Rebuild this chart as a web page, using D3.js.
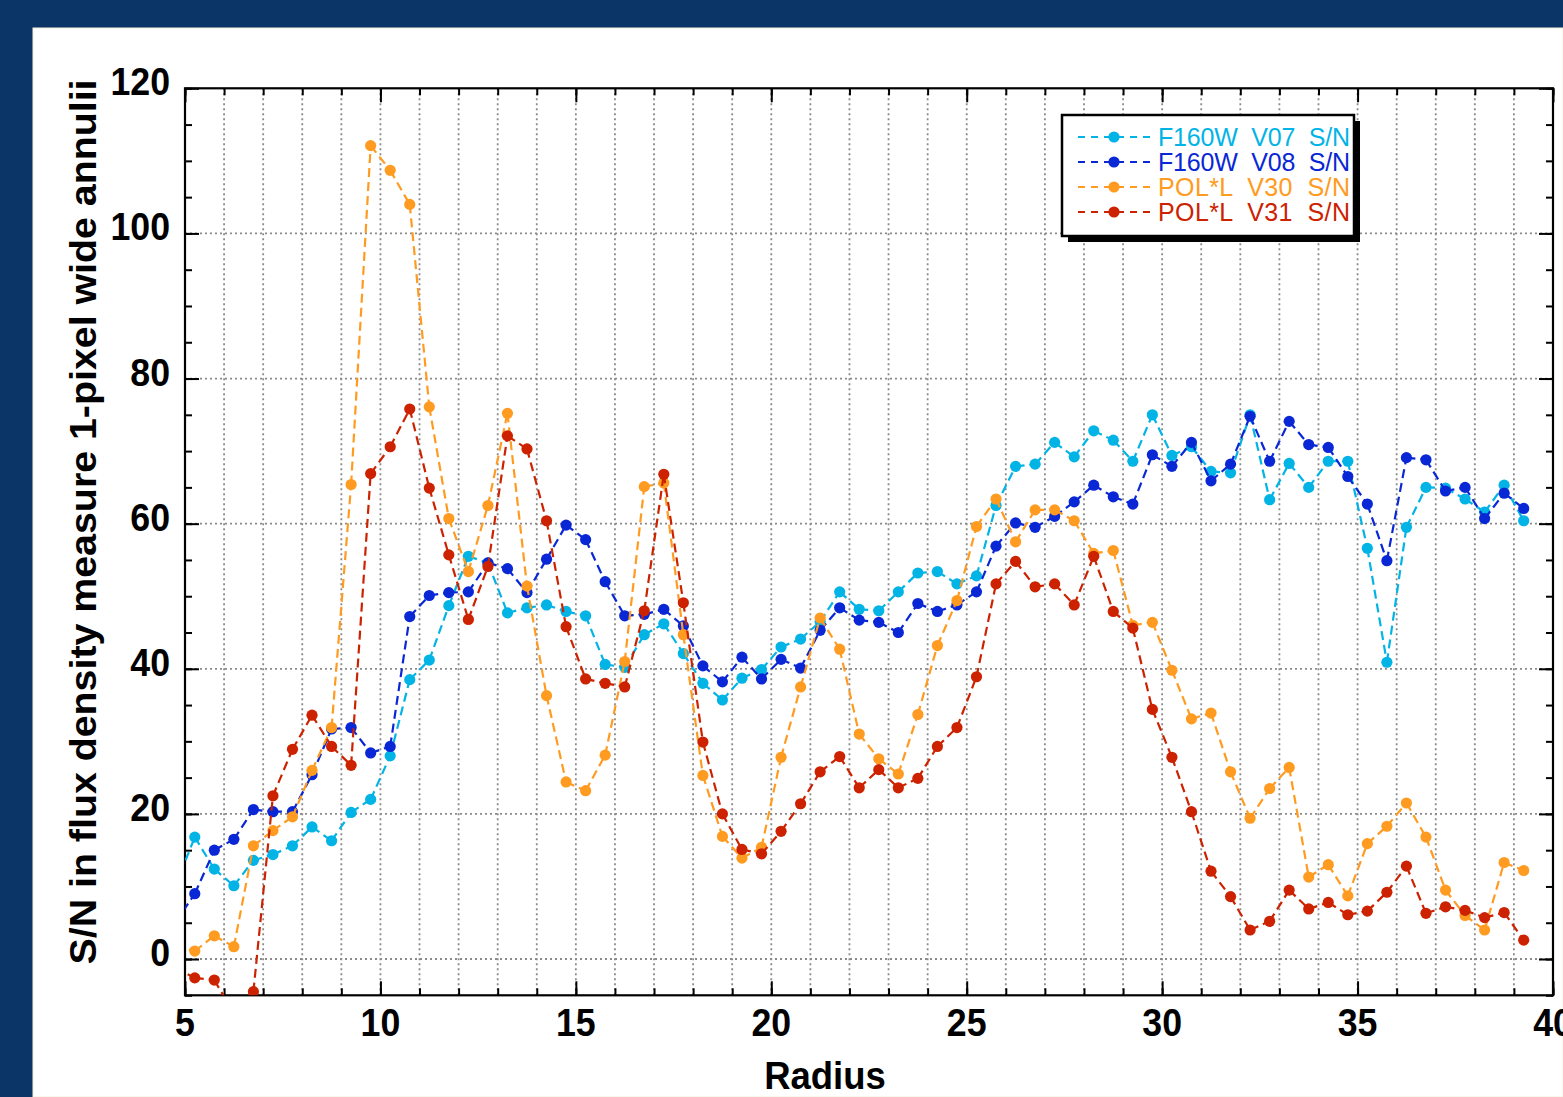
<!DOCTYPE html>
<html>
<head>
<meta charset="utf-8">
<script src="https://cdn.jsdelivr.net/npm/d3@7"></script>
<style>
  html, body { margin: 0; padding: 0; background: #0c3567; }
  svg { display: block; }
</style>
</head>
<body>
<svg id="chart" width="1563" height="1097"></svg>
<script>
// Radius of each annulus (pixels); the first sample lies just left of the axis
const radius = [4.75, 5.25, 5.75, 6.25, 6.75, 7.25, 7.75, 8.25, 8.75, 9.25, 9.75,
  10.25, 10.75, 11.25, 11.75, 12.25, 12.75, 13.25, 13.75, 14.25, 14.75,
  15.25, 15.75, 16.25, 16.75, 17.25, 17.75, 18.25, 18.75, 19.25, 19.75,
  20.25, 20.75, 21.25, 21.75, 22.25, 22.75, 23.25, 23.75, 24.25, 24.75,
  25.25, 25.75, 26.25, 26.75, 27.25, 27.75, 28.25, 28.75, 29.25, 29.75,
  30.25, 30.75, 31.25, 31.75, 32.25, 32.75, 33.25, 33.75, 34.25, 34.75,
  35.25, 35.75, 36.25, 36.75, 37.25, 37.75, 38.25, 38.75, 39.25];

// S/N per annulus for each visit
const f160wV07 = [10.0, 16.8, 12.4, 10.1, 13.6, 14.4, 15.6, 18.2, 16.3, 20.2, 22.0,
  28.0, 38.5, 41.2, 48.7, 55.5, 54.6, 47.7, 48.4, 48.8, 47.9,
  47.3, 40.6, 40.2, 44.7, 46.2, 42.1, 38.0, 35.7, 38.7, 39.9,
  43.0, 44.1, 46.5, 50.6, 48.2, 48.0, 50.6, 53.2, 53.4, 51.7,
  52.8, 62.5, 67.9, 68.2, 71.2, 69.2, 72.8, 71.5, 68.6, 75.0,
  69.4, 70.6, 67.2, 67.0, 75.0, 63.3, 68.3, 65.0, 68.6, 68.6,
  56.6, 40.9, 59.5, 65.0, 64.9, 63.4, 61.6, 65.3, 60.4];

const f160wV08 = [5.0, 9.0, 15.0, 16.5, 20.6, 20.3, 20.3, 25.4, 31.7, 31.9, 28.4,
  29.3, 47.2, 50.1, 50.5, 50.6, 54.6, 53.8, 50.5, 55.1, 59.8,
  57.8, 52.0, 47.3, 47.5, 48.2, 45.9, 40.4, 38.2, 41.6, 38.6,
  41.3, 40.1, 45.3, 48.4, 46.7, 46.4, 45.0, 49.0, 47.9, 48.8,
  50.6, 56.9, 60.1, 59.5, 61.0, 63.0, 65.3, 63.7, 62.7, 69.5,
  67.9, 71.2, 65.9, 68.2, 74.8, 68.6, 74.1, 70.9, 70.5, 66.5,
  62.7, 54.9, 69.1, 68.8, 64.5, 65.0, 60.7, 64.2, 62.1];

const polLV30 = [1.7, 1.1, 3.2, 1.7, 15.6, 17.7, 19.6, 26.0, 31.9, 65.4, 112.1,
  108.7, 104.0, 76.1, 60.7, 53.4, 62.5, 75.2, 51.4, 36.3, 24.4,
  23.2, 28.1, 41.0, 65.1, 65.6, 44.7, 25.3, 16.9, 13.9, 15.4,
  27.8, 37.5, 47.0, 42.7, 31.0, 27.6, 25.5, 33.7, 43.2, 49.4,
  59.6, 63.4, 57.5, 61.9, 61.9, 60.4, 55.9, 56.3, 46.0, 46.4,
  39.8, 33.1, 33.9, 25.8, 19.4, 23.5, 26.4, 11.3, 13.0, 8.7,
  15.9, 18.3, 21.5, 16.8, 9.5, 6.0, 4.0, 13.3, 12.2];

const polLV31 = [-1.2, -2.6, -2.9, -7.5, -4.5, 22.5, 28.9, 33.6, 29.3, 26.7, 66.9,
  70.6, 75.8, 64.9, 55.7, 46.8, 54.1, 72.1, 70.3, 60.4, 45.8,
  38.6, 38.0, 37.5, 48.0, 66.8, 49.1, 29.9, 20.0, 15.1, 14.5,
  17.6, 21.4, 25.8, 27.9, 23.6, 26.1, 23.6, 24.9, 29.3, 31.9,
  38.9, 51.7, 54.8, 51.3, 51.7, 48.8, 55.5, 47.9, 45.6, 34.4,
  27.8, 20.3, 12.1, 8.6, 4.0, 5.2, 9.5, 6.9, 7.8, 6.1,
  6.6, 9.2, 12.8, 6.3, 7.2, 6.7, 5.7, 6.4, 2.6];

const seriesNames = ["F160W  V07  S/N", "F160W  V08  S/N", "POL*L  V30  S/N", "POL*L  V31  S/N"];
const seriesColors = ["#02b4e6", "#0a27d6", "#ff9b20", "#cc2200"];
const seriesValues = [f160wV07, f160wV08, polLV30, polLV31];

const xTicksMajor = [5, 10, 15, 20, 25, 30, 35, 40];
const yTicksMajor = [0, 20, 40, 60, 80, 100, 120];

const xTitle = "Radius";
const yTitle = "S/N in flux density measure 1-pixel wide annulii";

const svg = d3.select("#chart");
const W = 1563, H = 1097;
const boldFont = "'Liberation Sans', Arial, Helvetica, sans-serif";

// white panel on the navy frame
svg.append("rect").attr("x", 0).attr("y", 0).attr("width", W).attr("height", H).attr("fill", "#0c3567");
svg.append("rect").attr("x", 33).attr("y", 28).attr("width", W - 33).attr("height", H - 28)
  .attr("fill", "#ffffff").attr("stroke", "#f3f0d8").attr("stroke-width", 1);

const plot = { left: 185, right: 1553, top: 88.3, bottom: 995.3 };
const x = d3.scaleLinear().domain([5, 40]).range([plot.left, plot.right]);
const y = d3.scaleLinear().domain([-5, 120]).range([plot.bottom, plot.top]);

svg.append("clipPath").attr("id", "plotClip").append("rect")
  .attr("x", plot.left).attr("y", plot.top)
  .attr("width", plot.right - plot.left).attr("height", plot.bottom - plot.top);

// dotted grid
const grid = svg.append("g").attr("stroke", "#8a8a8a").attr("stroke-width", 1.8)
  .attr("stroke-dasharray", "2,3");
grid.selectAll("line.v").data(d3.range(6, 40)).join("line")
  .attr("x1", d => x(d)).attr("x2", d => x(d))
  .attr("y1", plot.top).attr("y2", plot.bottom);
grid.selectAll("line.h").data(d3.range(0, 101, 20)).join("line")
  .attr("y1", d => y(d)).attr("y2", d => y(d))
  .attr("x1", plot.left).attr("x2", plot.right);

// inward ticks on all four sides
function ticks(axisGen, transform, values, size) {
  const g = svg.append("g").attr("transform", transform)
    .call(axisGen.tickValues(values).tickSize(size).tickFormat(""));
  g.select(".domain").remove();
  g.selectAll(".tick line").attr("stroke", "#000").attr("stroke-width", 2);
}
const xMinor = d3.range(5, 41, 1), yMinor = d3.range(-5, 121, 5);
ticks(d3.axisBottom(x), `translate(0,${plot.bottom})`, xMinor, -7);
ticks(d3.axisBottom(x), `translate(0,${plot.bottom})`, xTicksMajor, -14);
ticks(d3.axisTop(x), `translate(0,${plot.top})`, xMinor, -7);
ticks(d3.axisTop(x), `translate(0,${plot.top})`, xTicksMajor, -14);
ticks(d3.axisLeft(y), `translate(${plot.left},0)`, yMinor, -7);
ticks(d3.axisLeft(y), `translate(${plot.left},0)`, yTicksMajor, -14);
ticks(d3.axisRight(y), `translate(${plot.right},0)`, yMinor, -7);
ticks(d3.axisRight(y), `translate(${plot.right},0)`, yTicksMajor, -14);

// frame
svg.append("rect").attr("x", plot.left).attr("y", plot.top)
  .attr("width", plot.right - plot.left).attr("height", plot.bottom - plot.top)
  .attr("fill", "none").attr("stroke", "#000").attr("stroke-width", 2.2);

// tick labels (bold, slightly condensed)
const labelSize = 38, squeeze = 0.94;
svg.append("g").selectAll("text").data(yTicksMajor).join("text")
  .attr("transform", d => `translate(170,${y(d) + 7}) scale(${squeeze},1)`)
  .attr("text-anchor", "end").attr("font-family", boldFont).attr("font-weight", "bold")
  .attr("font-size", labelSize).attr("fill", "#000").text(d => d);
svg.append("g").selectAll("text").data(xTicksMajor).join("text")
  .attr("transform", d => `translate(${x(d)},1036) scale(${squeeze},1)`)
  .attr("text-anchor", "middle").attr("font-family", boldFont).attr("font-weight", "bold")
  .attr("font-size", labelSize).attr("fill", "#000").text(d => d);

// axis titles
svg.append("text").attr("transform", "translate(825,1089) scale(0.96,1)")
  .attr("text-anchor", "middle").attr("font-family", boldFont).attr("font-weight", "bold")
  .attr("font-size", 38).attr("fill", "#000").text(xTitle);
svg.append("text").attr("transform", "translate(96,522) rotate(-90)")
  .attr("text-anchor", "middle").attr("font-family", boldFont).attr("font-weight", "bold")
  .attr("font-size", 36).attr("fill", "#000")
  .attr("textLength", 885).attr("lengthAdjust", "spacingAndGlyphs").text(yTitle);

// series: dashed segments restarting at each point, then dots
const data = seriesValues.map((vals, s) => ({
  name: seriesNames[s], color: seriesColors[s],
  points: radius.map((r, i) => ({ r, v: vals[i] }))
}));
const marks = svg.append("g").attr("clip-path", "url(#plotClip)");
data.forEach(series => {
  const g = marks.append("g");
  const segs = d3.pairs(series.points);
  g.selectAll("line").data(segs).join("line")
    .attr("x1", d => x(d[0].r)).attr("y1", d => y(d[0].v))
    .attr("x2", d => x(d[1].r)).attr("y2", d => y(d[1].v))
    .attr("stroke", series.color).attr("stroke-width", 2.2)
    .attr("stroke-dasharray", "9,5");
  g.selectAll("circle").data(series.points).join("circle")
    .attr("cx", d => x(d.r)).attr("cy", d => y(d.v)).attr("r", 5.6)
    .attr("fill", series.color);
});

// legend with drop shadow
const lg = svg.append("g");
lg.append("rect").attr("x", 1068).attr("y", 121).attr("width", 292).attr("height", 121).attr("fill", "#000");
lg.append("rect").attr("x", 1062).attr("y", 115).attr("width", 292).attr("height", 121)
  .attr("fill", "#fff").attr("stroke", "#000").attr("stroke-width", 2.5);
data.forEach((series, i) => {
  const cy = 137 + i * 25;
  lg.append("line").attr("x1", 1078).attr("x2", 1152).attr("y1", cy).attr("y2", cy)
    .attr("stroke", series.color).attr("stroke-width", 2.2).attr("stroke-dasharray", "7,6");
  lg.append("circle").attr("cx", 1114).attr("cy", cy).attr("r", 5.6).attr("fill", series.color);
  lg.append("text").attr("x", 1158).attr("y", cy + 9)
    .attr("font-family", boldFont).attr("font-size", 25).attr("fill", series.color)
    .attr("textLength", 192).attr("lengthAdjust", "spacing")
    .style("white-space", "pre").text(series.name);
});
</script>
</body>
</html>
